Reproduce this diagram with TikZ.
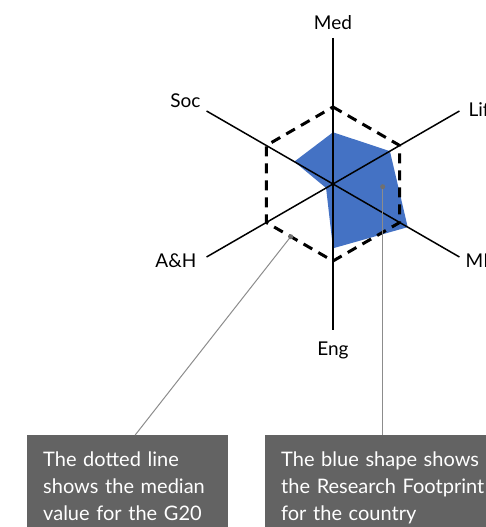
\documentclass[tikz,border=0pt]{standalone}
\usepackage{fontspec}
\setmainfont{Lato}
\usetikzlibrary{positioning}
\definecolor{footblue}{RGB}{68,114,196}
\definecolor{notegray}{RGB}{99,99,99}
\definecolor{leadgray}{RGB}{140,140,140}
\tikzset{
  axis/.style={line width=1.5pt},
  median/.style={line width=3pt, dash pattern=on 10pt off 7pt},
  footprint/.style={fill=footblue, draw=none},
  leader/.style={leadgray, line width=1pt},
  lbl/.style={font=\fontsize{19}{19}\selectfont, inner sep=2pt},
  note/.style={fill=notegray, text=white, anchor=north west, align=left, inner xsep=16pt, inner ysep=17pt, font=\fontsize{20}{26.7}\selectfont}
}
\begin{document}
\begin{tikzpicture}[x=1pt,y=1pt]
\useasboundingbox (0,0) rectangle (486,527);
\clip (0,0) rectangle (486,527);
\coordinate (c) at (333,343);
\foreach \name/\ang in {med/90, lit/30, mp/-30, eng/-90, ah/210, soc/150}
  \path (c) ++(\ang:146) coordinate (\name);

\fill[footprint, shift={(c)}] (90:51.7) -- (30:65.7) -- (-30:86.3) -- (-90:64.3) -- (210:8) -- (150:44.7) -- cycle;
\draw[median, shift={(c)}] (90:77) -- (30:77) -- (-30:77) -- (-90:77) -- (210:77) -- (150:77) -- cycle;
\draw[axis] (med) -- (eng);
\draw[axis] (soc) -- (mp);
\draw[axis] (ah) -- (lit);

\node[lbl, above=6pt of med] (medl) {Med};
\node[lbl, anchor=base east] (socl) at ([shift={(-4,3)}]soc) {Soc};
\node[lbl, anchor=base west] (litl) at ([shift={(7,-6)}]lit) {Life};
\node[lbl, anchor=base east] (ahl) at ([shift={(-8,-11)}]ah) {A\&H};
\node[lbl, anchor=base west] (mpl) at ([shift={(4,-11)}]mp) {MPS};
\node[lbl, anchor=base] (engl) at ([shift={(0,-26)}]eng) {Eng};

\node[note, text width=169pt] (gbox) at (27,92) {The dotted line\\shows the median\\value for the G20};
\node[note, text width=230pt] (rbox) at (265,92) {The blue shape shows\\the Research Footprint\\for the country};

\coordinate (gdot) at (290.7,290.3);
\coordinate (bdot) at (382.7,340.3);
\draw[leader] (gdot) -- ([xshift=7.5pt]gbox.north);
\draw[leader] (bdot) -- (bdot |- rbox.north);
\fill[leadgray!80!black] (gdot) circle (2.5);
\fill[leadgray!80!black] (bdot) circle (2.5);
\end{tikzpicture}
\end{document}
